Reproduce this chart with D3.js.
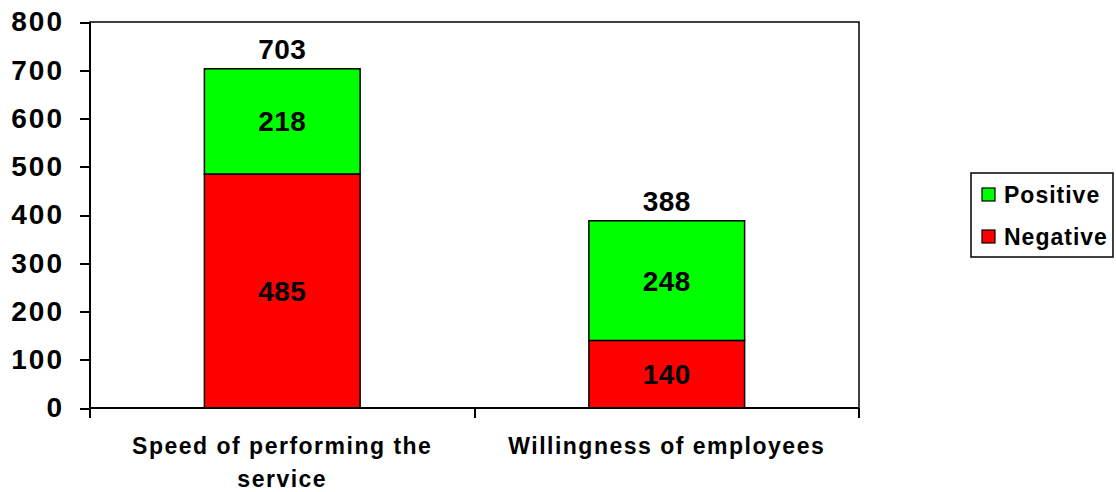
<!DOCTYPE html>
<html lang="en">
<head>
<meta charset="UTF-8">
<title>Positive / Negative</title>
<script src="https://d3js.org/d3.v7.min.js"></script>
<style>
body { margin: 0; background: #fff; }
svg text { font-family: "Liberation Sans", Arial, sans-serif; font-weight: bold; fill: #000; }
.axis path, .axis line { stroke: #000; stroke-width: 2; shape-rendering: crispEdges; }
.axis .tick text { font-size: 28px; letter-spacing: 2px; }
</style>
</head>
<body>
<div id="chart"></div>
<script>
// data
const categories = ["Speed of performing the service", "Willingness of employees"];
const negative = [485, 140];
const positive = [218, 248];
const seriesNames = ["Positive", "Negative"];
const seriesColors = ["#00ff00", "#ff0000"];
const yTicks = [0, 100, 200, 300, 400, 500, 600, 700, 800];

const W = 1116, H = 492;
const margin = { top: 22, right: 257, bottom: 84, left: 90 };
const width = W - margin.left - margin.right;
const height = H - margin.top - margin.bottom;

const svg = d3.select("#chart").append("svg")
  .attr("width", W)
  .attr("height", H);

const g = svg.append("g")
  .attr("transform", `translate(${margin.left},${margin.top})`);

// scales
const x = d3.scaleBand().domain(categories).range([0, width]).padding(0);
const y = d3.scaleLinear().domain([0, 800]).range([height, 0]);
const barW = x.bandwidth() * 0.405;

// stacked data
const rows = categories.map((c, i) => ({ cat: c, Negative: negative[i], Positive: positive[i] }));
const stack = d3.stack().keys(["Negative", "Positive"])(rows);
const color = { Negative: "#ff0000", Positive: "#00ff00" };

// plot frame (top/right)
g.append("rect")
  .attr("width", width)
  .attr("height", height)
  .attr("fill", "none")
  .attr("stroke", "#000")
  .attr("stroke-width", 1.5);

// bars
stack.forEach(layer => {
  g.selectAll(null)
    .data(layer)
    .join("rect")
    .attr("x", d => x(d.data.cat) + (x.bandwidth() - barW) / 2)
    .attr("y", d => y(d[1]))
    .attr("width", barW)
    .attr("height", d => y(d[0]) - y(d[1]))
    .attr("fill", color[layer.key])
    .attr("stroke", "#000")
    .attr("stroke-width", 1.5);

  // segment labels
  g.selectAll(null)
    .data(layer)
    .join("text")
    .attr("x", d => x(d.data.cat) + x.bandwidth() / 2)
    .attr("y", d => (y(d[0]) + y(d[1])) / 2)
    .attr("dy", "0.36em")
    .attr("text-anchor", "middle")
    .style("font-size", "28px")
    .style("letter-spacing", "0.5px")
    .text(d => d[1] - d[0]);
});

// totals
g.selectAll(".total")
  .data(rows)
  .join("text")
  .attr("class", "total")
  .attr("x", d => x(d.cat) + x.bandwidth() / 2)
  .attr("y", d => y(d.Negative + d.Positive) - 10)
  .attr("text-anchor", "middle")
  .style("font-size", "28px")
  .style("letter-spacing", "0.5px")
  .text(d => d.Negative + d.Positive);

// y axis
g.append("g")
  .attr("class", "axis")
  .call(d3.axisLeft(y).tickValues(yTicks).tickSize(10).tickPadding(16))
  .call(a => a.select(".domain").attr("d", `M0,0V${height}`));

// x axis
const xAxis = g.append("g")
  .attr("class", "axis")
  .attr("transform", `translate(0,${height})`);
xAxis.append("line").attr("x1", 0).attr("x2", width);
xAxis.selectAll(".sep")
  .data([0, width / 2, width])
  .join("line")
  .attr("x1", d => d).attr("x2", d => d)
  .attr("y1", 0).attr("y2", 10);

// category labels, wrapped
xAxis.selectAll(".cat")
  .data(categories)
  .join("text")
  .attr("class", "cat")
  .attr("text-anchor", "middle")
  .style("font-size", "23px")
  .style("letter-spacing", "1.5px")
  .each(function(d) {
    const t = d3.select(this);
    const cx = x(d) + x.bandwidth() / 2;
    const words = d.split(" ");
    const lines = [];
    let cur = [];
    words.forEach(w => {
      const test = cur.concat(w).join(" ");
      if (test.length > 24 && cur.length) { lines.push(cur.join(" ")); cur = [w]; }
      else cur.push(w);
    });
    lines.push(cur.join(" "));
    lines.forEach((l, i) => {
      t.append("tspan").attr("x", cx).attr("y", 46 + i * 33).text(l);
    });
  });

// legend
const leg = svg.append("g").attr("transform", "translate(971,173)");
leg.append("rect")
  .attr("width", 142)
  .attr("height", 84)
  .attr("fill", "#fff")
  .attr("stroke", "#000")
  .attr("stroke-width", 1.5);
seriesNames.forEach((name, i) => {
  const row = leg.append("g").attr("transform", `translate(11,${15 + i * 42})`);
  row.append("rect")
    .attr("width", 13)
    .attr("height", 13)
    .attr("fill", seriesColors[i])
    .attr("stroke", "#000")
    .attr("stroke-width", 1.2);
  row.append("text")
    .attr("x", 22)
    .attr("y", 7)
    .attr("dy", "0.36em")
    .style("font-size", "23px")
    .style("letter-spacing", "1px")
    .text(name);
});
</script>
</body>
</html>
